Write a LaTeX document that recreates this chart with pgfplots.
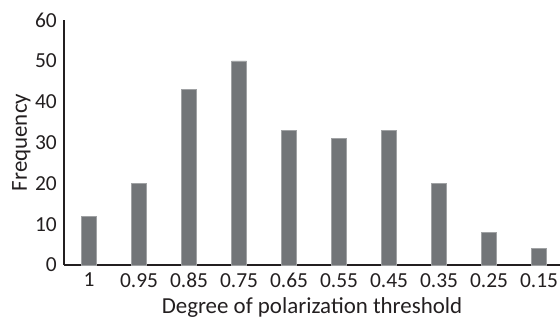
\documentclass[border=0pt]{standalone}
\usepackage{pgfplots}
\pgfplotsset{compat=1.18}
\usepackage{fontspec}
\setmainfont{Carlito}
\definecolor{barfill}{RGB}{114,117,120}
\definecolor{baredge}{RGB}{160,162,164}
\definecolor{axisdark}{RGB}{35,31,32}
\begin{document}
\begin{tikzpicture}
\useasboundingbox (-64bp,-53bp) rectangle (496bp,265bp);
\begin{axis}[
  at={(0,0)}, anchor=south west,
  scale only axis,
  width=496bp, height=245bp,
  xmin=-0.5, xmax=9.42,
  ymin=0, ymax=60,
  ytick={0,10,...,60},
  xtick={0,...,9},
  xticklabels={1,0.95,0.85,0.75,0.65,0.55,0.45,0.35,0.25,0.15},
  axis x line=bottom, axis y line=left,
  axis line style={-, line width=1.8bp, axisdark},
  major tick length=0pt,
  tick label style={font=\fontsize{21.5}{23}\selectfont, text=axisdark},
  /pgf/number format/assume math mode=true,
  xticklabel style={anchor=north, inner sep=0pt, yshift=-8bp},
  yticklabel style={anchor=east, inner sep=0pt, xshift=-7bp},
  xlabel={Degree of polarization threshold},
  ylabel={Frequency},
  label style={font=\fontsize{23}{25}\selectfont, text=axisdark},
  xlabel style={at={(axis description cs:0.5,-0.196)}, anchor=base},
  ylabel style={at={(axis description cs:-0.0746,0.5)}, anchor=base},
  clip=false,
]
\addplot[ybar, bar width=15bp, fill=barfill, draw=baredge, line width=0.5bp]
  coordinates {(0,12) (1,20) (2,43) (3,50) (4,33) (5,31) (6,33) (7,20) (8,8) (9,4)};
\end{axis}
\end{tikzpicture}
\end{document}
